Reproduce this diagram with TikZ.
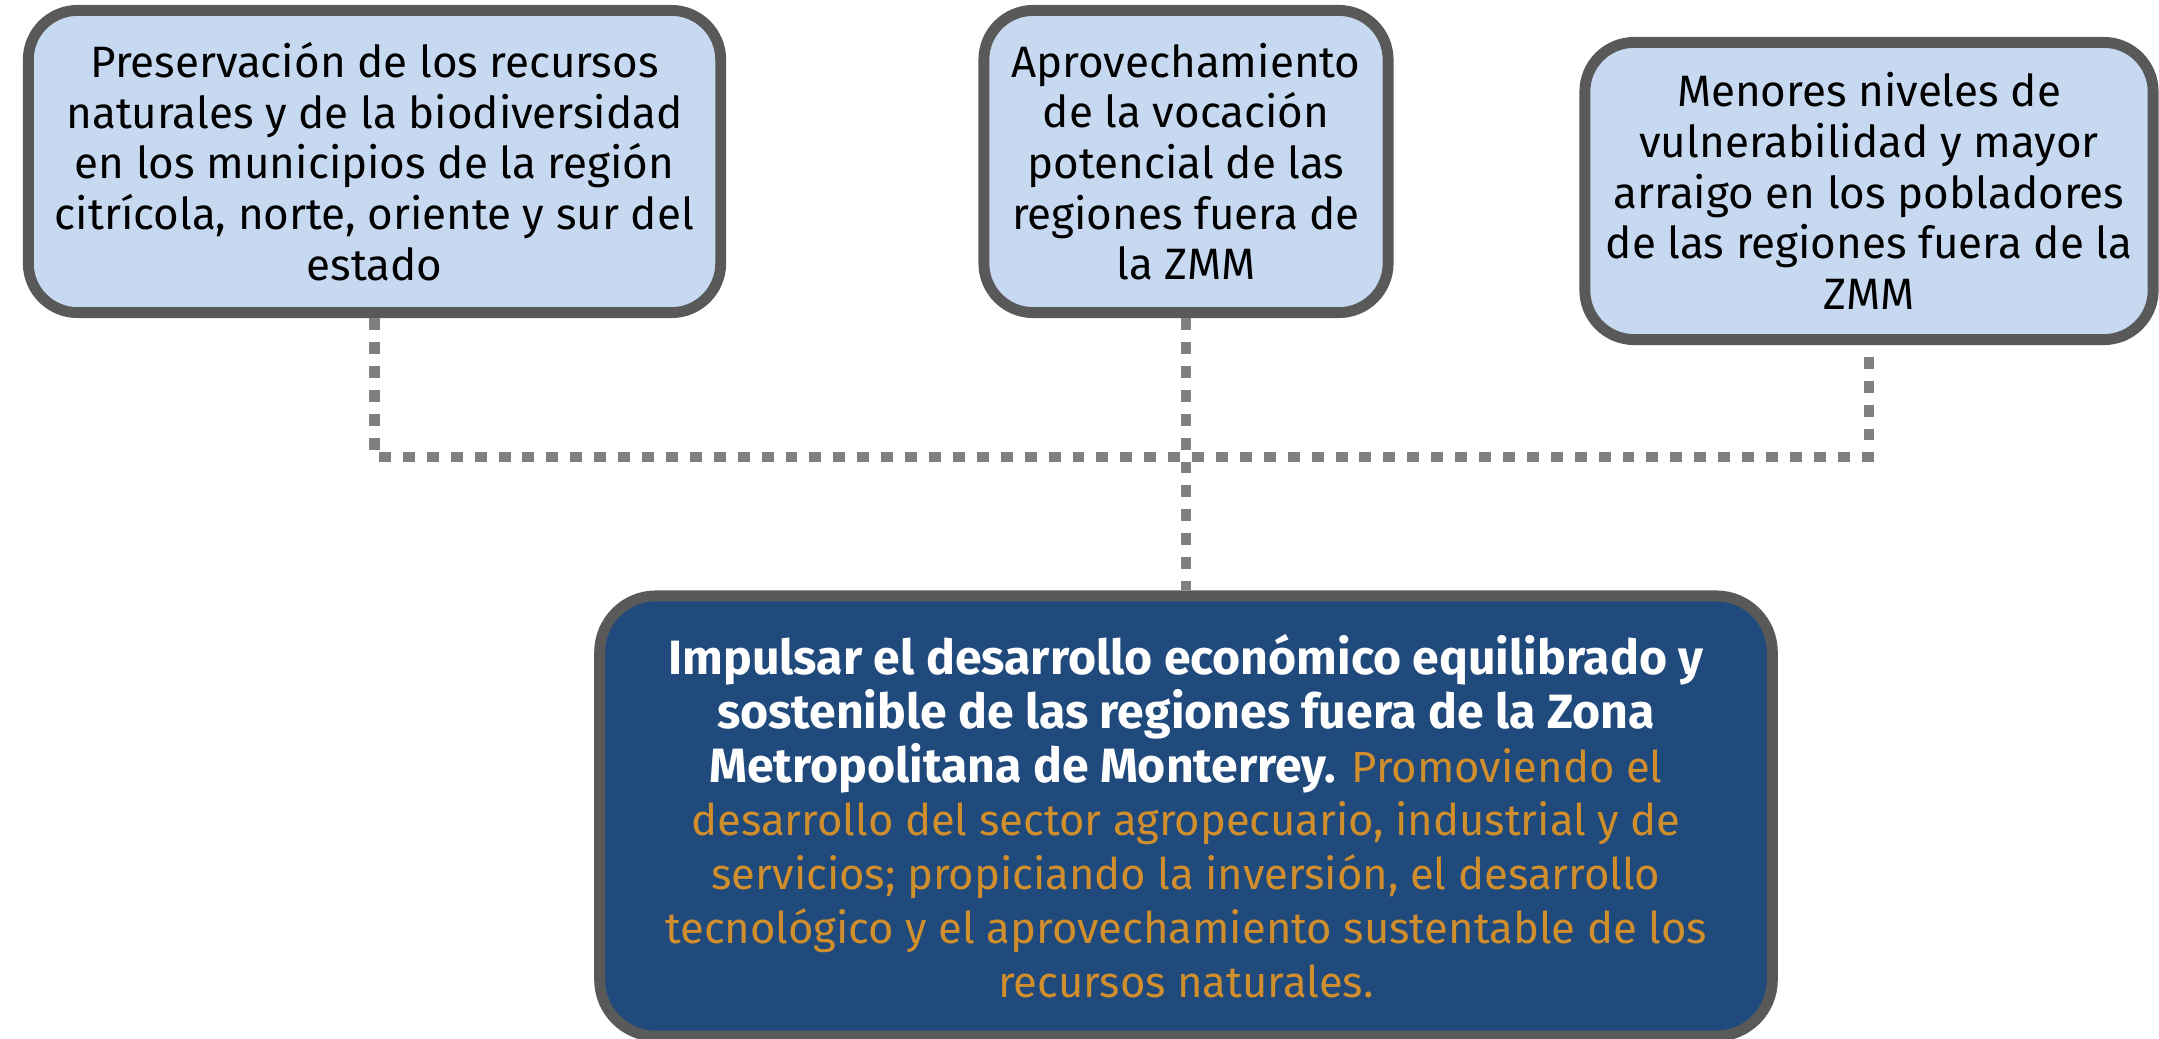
\documentclass[tikz,border=0pt]{standalone}
\usepackage{fontspec}
\setmainfont{Fira Sans}
\definecolor{boxfill}{HTML}{C6D9F0}
\definecolor{boxline}{HTML}{595959}
\definecolor{darkfill}{HTML}{1F4A7B}
\definecolor{goldtext}{HTML}{D08E2C}
\definecolor{connline}{HTML}{808080}
\newcommand{\boldpart}[1]{{\fontsize{13.7}{15.3}\selectfont\bfseries #1}}
\newcommand{\goldpart}[1]{{\fontsize{12.4}{15.3}\selectfont\color{goldtext}#1}}
\begin{document}
\begin{tikzpicture}[x=0.01cm,y=-0.01cm,
  topbox/.style={draw=boxline, line width=3.1pt, fill=boxfill, rounded corners=14pt,
    align=center, inner sep=0pt, font=\fontsize{12.5}{14.4}\selectfont, text=black},
  mainbox/.style={draw=boxline, line width=3.1pt, fill=darkfill, rounded corners=16pt,
    align=center, inner sep=0pt, font=\fontsize{12.6}{15.3}\selectfont, text=white},
  conn/.style={draw=connline, line width=3.1pt, dash pattern=on 3.4pt off 3.4pt}]
\useasboundingbox (0,0) rectangle (2159,1038);
\node[topbox, minimum width=6.92cm, minimum height=3.02cm] (b1) at (374.5,161.5)
  {Preservación de los recursos\\naturales y de la biodiversidad\\en los municipios de la región\\citrícola, norte, oriente y sur del\\estado};
\node[topbox, minimum width=4.04cm, minimum height=3.02cm] (b2) at (1186,161.5)
  {Aprovechamiento\\de la vocación\\potencial de las\\regiones fuera de\\la ZMM};
\node[topbox, minimum width=5.68cm, minimum height=2.97cm] (b3) at (1869,191)
  {Menores niveles de\\vulnerabilidad y mayor\\arraigo en los pobladores\\de las regiones fuera de la\\ZMM};
\node[mainbox, minimum width=11.72cm, minimum height=4.40cm] (b4) at (1186,816)
  {\boldpart{Impulsar el desarrollo económico equilibrado y}\\
   \boldpart{sostenible de las regiones fuera de la Zona}\\
   \boldpart{Metropolitana de Monterrey.} \goldpart{Promoviendo el}\\
   \goldpart{desarrollo del sector agropecuario, industrial y de}\\
   \goldpart{servicios; propiciando la inversión, el desarrollo}\\
   \goldpart{tecnológico y el aprovechamiento sustentable de los}\\
   \goldpart{recursos naturales.}};
\coordinate (j1) at (b1.south |- 0,457);
\coordinate (j3) at (b3.south |- 0,457);
\draw[conn] (b1.south) -- (j1) -- (j3) -- (b3.south);
\draw[conn] (b2.south) -- (b4.north);
\end{tikzpicture}
\end{document}
